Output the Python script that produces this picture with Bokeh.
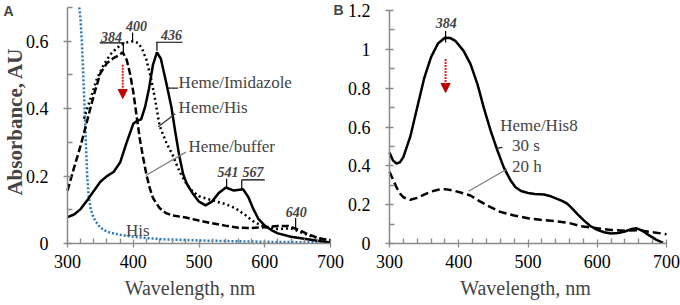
import math
from bokeh.plotting import figure
from bokeh.layouts import row
from bokeh.models import (Range1d, FixedTicker, CustomJSTickFormatter, Label,
                          Arrow, NormalHead)
from bokeh.embed import file_html
from bokeh.resources import INLINE

# ---------------- Panel A data ----------------
wl_imid = [300, 310, 320, 330, 340, 350, 360, 370, 380, 390, 400, 405, 412, 418, 424,
           430, 436, 442, 450, 458, 464, 470, 476, 482, 490, 500, 510, 520, 530, 541,
           553, 567, 575, 582, 590, 600, 610, 620, 640, 660, 680, 700]
ab_imid = [0.078, 0.086, 0.102, 0.128, 0.156, 0.183, 0.200, 0.212, 0.240, 0.300, 0.355,
           0.363, 0.368, 0.405, 0.460, 0.530, 0.567, 0.548, 0.478, 0.405, 0.330, 0.260,
           0.205, 0.175, 0.150, 0.124, 0.113, 0.125, 0.150, 0.166, 0.157, 0.161, 0.138,
           0.105, 0.074, 0.053, 0.040, 0.030, 0.020, 0.014, 0.008, 0.003]

wl_his_heme = [325, 335, 345, 355, 365, 375, 385, 393, 400, 407, 413, 420, 427, 433, 440,
               450, 460, 470, 480, 490, 500, 520, 540, 555, 570, 585, 600, 620, 640, 655,
               670, 685, 700]
ab_his_heme = [0.370, 0.430, 0.490, 0.530, 0.560, 0.580, 0.593, 0.598, 0.600, 0.595, 0.580,
               0.545, 0.490, 0.430, 0.350, 0.300, 0.262, 0.215, 0.180, 0.155, 0.140, 0.128,
               0.117, 0.105, 0.085, 0.062, 0.050, 0.043, 0.045, 0.033, 0.022, 0.014, 0.010]

wl_buffer = [300, 310, 320, 330, 340, 350, 360, 370, 378, 384, 390, 395, 400, 405, 410,
             415, 420, 425, 430, 440, 450, 460, 480, 500, 520, 540, 560, 580, 600, 620,
             635, 650, 665, 680, 700]
ab_buffer = [0.157, 0.225, 0.290, 0.365, 0.440, 0.505, 0.535, 0.550, 0.558, 0.567, 0.545,
             0.505, 0.450, 0.380, 0.310, 0.255, 0.205, 0.165, 0.135, 0.105, 0.090, 0.083,
             0.077, 0.068, 0.060, 0.053, 0.047, 0.046, 0.048, 0.052, 0.052, 0.042, 0.028,
             0.017, 0.008]

wl_his = [318, 320, 322, 324, 326, 328, 330, 332, 335, 338, 342, 348, 355, 365, 380,
          395, 420, 450, 500, 550, 600, 650, 700]
ab_his = [0.700, 0.660, 0.590, 0.500, 0.400, 0.300, 0.200, 0.145, 0.105, 0.085,
          0.068, 0.052, 0.040, 0.032, 0.026, 0.021, 0.016, 0.012, 0.009, 0.007, 0.005,
          0.004, 0.003]

# ---------------- Panel B data ----------------
wl_30s = [300, 305, 310, 315, 320, 330, 340, 350, 360, 370, 380, 388, 395, 407, 417, 427,
          436, 446, 455, 465, 475, 482, 490, 500, 510, 523, 533, 542, 550, 557, 564, 571,
          581, 590, 600, 610, 620, 630, 640, 650, 656, 665, 675, 685, 695]
ab_30s = [0.468, 0.428, 0.412, 0.418, 0.445, 0.550, 0.700, 0.850, 0.960, 1.030, 1.060,
          1.058, 1.044, 0.992, 0.924, 0.821, 0.701, 0.581, 0.487, 0.392, 0.324, 0.290,
          0.270, 0.260, 0.255, 0.252, 0.243, 0.230, 0.218, 0.204, 0.180, 0.153, 0.118,
          0.090, 0.070, 0.058, 0.052, 0.054, 0.062, 0.075, 0.079, 0.066, 0.042, 0.020,
          0.003]

wl_20h = [300, 305, 310, 315, 320, 330, 340, 350, 360, 370, 380, 393, 405, 417, 430, 446,
          460, 480, 500, 518, 540, 560, 575, 600, 620, 640, 660, 680, 700]
ab_20h = [0.370, 0.330, 0.290, 0.258, 0.238, 0.225, 0.235, 0.252, 0.267, 0.277, 0.280,
          0.272, 0.260, 0.247, 0.218, 0.187, 0.163, 0.144, 0.130, 0.122, 0.115, 0.105,
          0.090, 0.078, 0.070, 0.066, 0.068, 0.058, 0.048]

# ---------------- ticks ----------------
x_major = [300, 400, 500, 600, 700]
x_minor = [320, 340, 360, 380, 420, 440, 460, 480, 520, 540, 560, 580, 620, 640, 660, 680]
yA_major = [0, 0.2, 0.4, 0.6]
yA_minor = [0.1, 0.3, 0.5, 0.7]
yB_major = [0, 0.2, 0.4, 0.6, 0.8, 1.0, 1.2]
yB_minor = [0.1, 0.3, 0.5, 0.7, 0.9, 1.1]

# ---------------- annotations ----------------
A_peak_text = ["384", "400", "436", "541", "567", "640"]
A_peak_x = [367, 405, 458, 544, 582, 648]
A_peak_y = [0.612, 0.646, 0.619, 0.212, 0.212, 0.093]
A_seg_x0 = [349, 385, 399, 435, 436, 542, 565, 565, 647]
A_seg_y0 = [0.595, 0.595, 0.626, 0.597, 0.597, 0.192, 0.189, 0.189, 0.076]
A_seg_x1 = [387, 385, 399, 475, 436, 542, 600, 565, 647]
A_seg_y1 = [0.595, 0.568, 0.597, 0.597, 0.572, 0.166, 0.189, 0.162, 0.045]
A_names = ["Heme/Imidazole", "Heme/His", "Heme/buffer", "His"]
A_name_x = [469, 469, 484, 389]
A_name_y = [0.478, 0.402, 0.289, 0.038]
A_lead_x0 = [453, 438, 419]
A_lead_y0 = [0.461, 0.346, 0.202]
A_lead_x1 = [468, 464, 480]
A_lead_y1 = [0.461, 0.385, 0.271]
A_lead_col = ["#222222", "#333333", "#7f7f7f"]

B_peak_text = ["384"]
B_peak_x = [382]
B_peak_y = [1.137]
B_seg_x0 = [381]
B_seg_y0 = [1.035]
B_seg_x1 = [381]
B_seg_y1 = [1.095]
B_names = ["Heme/His8", "30 s", "20 h"]
B_name_x = [460, 477, 477]
B_name_y = [0.61, 0.504, 0.397]
B_lead_x0 = [455, 414]
B_lead_y0 = [0.49, 0.269]
B_lead_x1 = [463, 470]
B_lead_y1 = [0.495, 0.384]
B_lead_col = ["#222222", "#7f7f7f"]

SERIF = "Liberation Serif"
AXC = "#8a8a8a"
H = 305

# geometry (pixels) of each panel; each frame covers its whole canvas and the
# axes are drawn at fixed data locations inside it
A_W, A_X0, A_X1, A_Y0, A_YT, A_TOP = 344, 67, 330, 243, 7, 0.7
B_W, B_X0, B_X1, B_Y0, B_YT, B_TOP = 336, 45, 322, 243, 10, 1.2


def make_fig(W, X0, X1, Y0, YT, TOP, ymaj, ymin):
    kx = (X1 - X0) / 400.0
    ky = (Y0 - YT) / TOP
    p = figure(width=W, height=H, output_backend="svg", toolbar_location=None,
               x_range=Range1d(300 - X0 / kx, 700 + (W - X1) / kx),
               y_range=Range1d(-(H - Y0) / ky, Y0 / ky),
               min_border_left=0, min_border_right=0, min_border_top=0,
               min_border_bottom=0)
    p.xaxis.ticker = FixedTicker(ticks=x_major, minor_ticks=x_minor)
    p.yaxis.ticker = FixedTicker(ticks=ymaj, minor_ticks=ymin)
    p.yaxis.formatter = CustomJSTickFormatter(code="return String(Math.round(tick*10)/10)")
    p.xaxis.formatter = CustomJSTickFormatter(code="return String(Math.round(tick))")
    p.yaxis.fixed_location = 300
    p.xaxis.fixed_location = 0
    p.yaxis.bounds = (0, TOP)
    p.xaxis.bounds = (300, 700)
    for ax in (p.xaxis[0], p.yaxis[0]):
        ax.axis_line_color = AXC
        ax.axis_line_width = 1.5
        ax.major_tick_line_color = AXC
        ax.minor_tick_line_color = AXC
        ax.major_tick_line_width = 1.3
        ax.minor_tick_line_width = 1.3
        ax.major_tick_in = 4
        ax.major_tick_out = 4
        ax.minor_tick_in = 5
        ax.minor_tick_out = 0
        ax.major_label_text_font = SERIF
        ax.major_label_text_font_size = "18px"
        ax.major_label_text_color = "black"
    p.xaxis.major_label_standoff = 7
    p.yaxis.major_label_standoff = 15
    p.xgrid.visible = False
    p.ygrid.visible = False
    p.outline_line_color = None
    p.background_fill_color = "white"
    p.border_fill_color = "white"
    return p


def add_red_arrow(p, x, y0, y1):
    p.add_layout(Arrow(end=NormalHead(size=9, fill_color="#c00000", line_color="#c00000"),
                       x_start=x, y_start=y0, x_end=x, y_end=y1,
                       line_color="#e02020", line_width=2, line_dash="2 1"))


def screen_label(p, x, y_from_top, text, **kw):
    p.add_layout(Label(x=x, y=H - y_from_top, x_units="screen", y_units="screen",
                       text=text, **kw))


# ---------------- Figure A ----------------
pA = make_fig(A_W, A_X0, A_X1, A_Y0, A_YT, A_TOP, yA_major, yA_minor)

pA.line(wl_his, ab_his, line_color="#2a78b8", line_width=2.5, line_dash="2 2")
pA.line(wl_buffer, ab_buffer, line_color="black", line_width=2.5, line_dash="7 3")
pA.line(wl_his_heme, ab_his_heme, line_color="black", line_width=2.5, line_dash="2 3")
pA.line(wl_imid, ab_imid, line_color="black", line_width=2.5)

pA.segment(A_seg_x0, A_seg_y0, A_seg_x1, A_seg_y1, line_color="black", line_width=1.2)
pA.segment(A_lead_x0, A_lead_y0, A_lead_x1, A_lead_y1, line_color=A_lead_col, line_width=1.2)
for t, x, y in zip(A_peak_text, A_peak_x, A_peak_y):
    pA.add_layout(Label(x=x, y=y, text=t, text_font=SERIF, text_font_size="14px",
                        text_font_style="bold italic", text_align="center",
                        text_baseline="middle"))
for t, x, y in zip(A_names, A_name_x, A_name_y):
    pA.add_layout(Label(x=x, y=y, text=t, text_font=SERIF, text_font_size="17px",
                        text_align="left", text_baseline="middle"))
add_red_arrow(pA, 384, 0.53, 0.43)

screen_label(pA, 189.5, 287, "Wavelength, nm", text_font=SERIF, text_font_size="20px",
             text_align="center", text_baseline="middle")
screen_label(pA, 14, 121, "Absorbance, AU", text_font=SERIF, text_font_size="21px",
             text_font_style="bold", angle=math.pi / 2, text_align="center",
             text_baseline="middle")
screen_label(pA, 3, 10, "A", text_font="Liberation Sans", text_font_style="bold",
             text_font_size="14px", text_align="left", text_baseline="middle")
screen_label(pA, 333, 9, "B", text_font="Liberation Sans", text_font_style="bold",
             text_font_size="14px", text_align="left", text_baseline="middle")

# ---------------- Figure B ----------------
pB = make_fig(B_W, B_X0, B_X1, B_Y0, B_YT, B_TOP, yB_major, yB_minor)

pB.line(wl_20h, ab_20h, line_color="black", line_width=2.5, line_dash="8 4")
pB.line(wl_30s, ab_30s, line_color="black", line_width=2.5)
pB.segment(B_seg_x0, B_seg_y0, B_seg_x1, B_seg_y1, line_color="black", line_width=1.2)
pB.segment(B_lead_x0, B_lead_y0, B_lead_x1, B_lead_y1, line_color=B_lead_col, line_width=1.2)
for t, x, y in zip(B_peak_text, B_peak_x, B_peak_y):
    pB.add_layout(Label(x=x, y=y, text=t, text_font=SERIF, text_font_size="14px",
                        text_font_style="bold italic", text_align="center",
                        text_baseline="middle"))
for t, x, y in zip(B_names, B_name_x, B_name_y):
    pB.add_layout(Label(x=x, y=y, text=t, text_font=SERIF, text_font_size="17px",
                        text_align="left", text_baseline="middle"))
add_red_arrow(pB, 381, 0.95, 0.778)
screen_label(pB, 181, 287, "Wavelength, nm", text_font=SERIF, text_font_size="20px",
             text_align="center", text_baseline="middle")

layout = row(pA, pB)
open("out.html", "w").write(file_html(layout, INLINE))
